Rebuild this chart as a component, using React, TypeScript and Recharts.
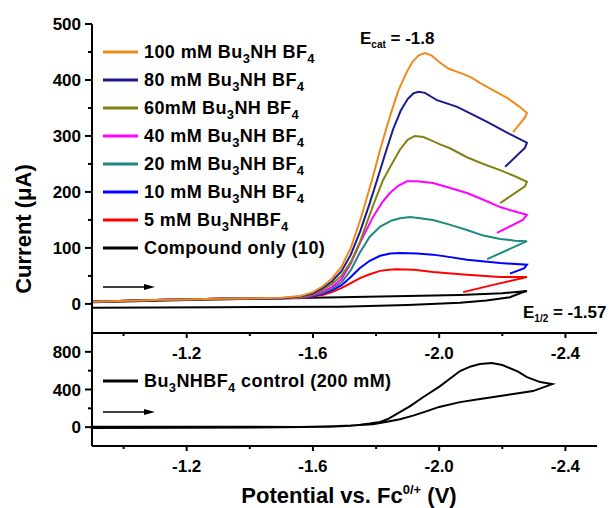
import React from 'react';
import { LineChart, Line, XAxis, YAxis, Legend } from 'recharts';

type Pt = [number, number];

// potential (V vs Fc) , current (uA) - forward scan then return
const cvCompound: Pt[] = [
  [-0.9, 3], [-1.2, 7], [-1.5, 10], [-1.686, 12], [-1.9, 14], [-2.066, 16], [-2.2, 19], [-2.278, 23],
  [-2.26, 20], [-2.224, 12], [-2.15, 6], [-2.066, 2], [-1.9, -2], [-1.686, -5], [-1.3, -6], [-0.9, -7],
];
const cv5: Pt[] = [
  [-0.9, 4], [-1.1, 7], [-1.3, 9], [-1.5, 10], [-1.56, 10], [-1.6, 13], [-1.63, 16], [-1.66, 21],
  [-1.69, 28], [-1.72, 37], [-1.749, 46], [-1.78, 53], [-1.813, 59], [-1.84, 61], [-1.866, 62],
  [-1.92, 61], [-1.98, 57], [-2.088, 52], [-2.193, 48], [-2.278, 48], [-2.171, 34], [-2.076, 21],
];
const cv10: Pt[] = [
  [-0.9, 4], [-1.1, 7], [-1.3, 9], [-1.5, 10], [-1.56, 11], [-1.6, 14], [-1.63, 18], [-1.66, 24],
  [-1.69, 33], [-1.72, 48], [-1.749, 64], [-1.78, 77], [-1.813, 86], [-1.845, 90], [-1.876, 91],
  [-1.93, 90], [-1.98, 88], [-2.03, 84], [-2.088, 79], [-2.193, 73], [-2.278, 70], [-2.27, 64], [-2.224, 54],
];
const cv20: Pt[] = [
  [-0.9, 4], [-1.1, 7], [-1.3, 9], [-1.5, 10], [-1.56, 11], [-1.6, 15], [-1.63, 20], [-1.66, 27],
  [-1.69, 38], [-1.72, 60], [-1.749, 92], [-1.78, 120], [-1.813, 138], [-1.85, 149], [-1.876, 153],
  [-1.908, 155], [-1.94, 153], [-1.98, 150], [-2.03, 142], [-2.088, 132], [-2.14, 122], [-2.193, 116],
  [-2.24, 113], [-2.278, 112], [-2.152, 80],
];
const cv40: Pt[] = [
  [-0.9, 4], [-1.1, 7], [-1.3, 9], [-1.5, 10], [-1.56, 12], [-1.6, 16], [-1.63, 22], [-1.66, 30],
  [-1.69, 44], [-1.72, 72], [-1.75, 110], [-1.79, 155], [-1.82, 182], [-1.844, 198], [-1.87, 211],
  [-1.898, 219], [-1.93, 219], [-1.98, 216], [-2.03, 208], [-2.088, 198], [-2.14, 186], [-2.193, 173],
  [-2.24, 165], [-2.278, 159], [-2.265, 150], [-2.183, 127],
];
const cv60: Pt[] = [
  [-0.9, 4], [-1.1, 7], [-1.3, 9], [-1.5, 10], [-1.56, 12], [-1.6, 17], [-1.63, 25], [-1.66, 35],
  [-1.69, 50], [-1.72, 75], [-1.75, 112], [-1.79, 175], [-1.822, 221], [-1.85, 250], [-1.875, 275],
  [-1.9, 293], [-1.923, 300], [-1.95, 298], [-1.971, 293], [-2.003, 285], [-2.034, 278], [-2.088, 262],
  [-2.14, 250], [-2.193, 239], [-2.24, 228], [-2.278, 218], [-2.272, 210], [-2.193, 180],
];
const cv80: Pt[] = [
  [-0.9, 4], [-1.1, 7], [-1.3, 9], [-1.5, 10], [-1.56, 13], [-1.6, 19], [-1.63, 28], [-1.66, 40],
  [-1.69, 58], [-1.72, 88], [-1.75, 130], [-1.78, 180], [-1.803, 221], [-1.83, 270], [-1.854, 312],
  [-1.878, 345], [-1.9, 366], [-1.918, 376], [-1.935, 379], [-1.955, 377], [-1.975, 370], [-1.993, 364],
  [-2.057, 352], [-2.1, 340], [-2.152, 325], [-2.215, 306], [-2.278, 288], [-2.272, 279], [-2.209, 245],
];
const cv100: Pt[] = [
  [-0.9, 4], [-1.1, 7], [-1.3, 9], [-1.5, 11], [-1.56, 14], [-1.6, 21], [-1.63, 31], [-1.66, 45],
  [-1.69, 66], [-1.72, 100], [-1.75, 150], [-1.787, 221], [-1.815, 280], [-1.844, 335], [-1.87, 380],
  [-1.898, 415], [-1.915, 432], [-1.935, 444], [-1.955, 448], [-1.975, 444], [-2.0, 432], [-2.03, 420],
  [-2.06, 414], [-2.1, 405], [-2.129, 395], [-2.17, 382], [-2.215, 368], [-2.255, 352], [-2.278, 341],
  [-2.272, 333], [-2.234, 307],
];
const cvControl: Pt[] = [
  [-0.9, -8], [-1.2, -5], [-1.5, -2], [-1.65, 5], [-1.72, 16], [-1.75, 25], [-1.78, 38], [-1.813, 55],
  [-1.84, 90], [-1.87, 150], [-1.908, 223], [-1.95, 320], [-2.003, 436], [-2.066, 596], [-2.1, 645],
  [-2.129, 670], [-2.167, 681], [-2.2, 660], [-2.25, 590], [-2.278, 532], [-2.32, 479], [-2.358, 457],
  [-2.297, 383], [-2.24, 355], [-2.193, 330], [-2.13, 300], [-2.066, 266], [-2.0, 215], [-1.961, 170],
  [-1.92, 125], [-1.876, 85], [-1.83, 55], [-1.79, 32], [-1.72, 18], [-1.664, 11], [-1.559, 2], [-1.3, 5], [-0.9, 4],
];

// drawing order (bottom to top)
const topSeries = [
  { name: 'Compound only (10)', color: '#000000', pts: cvCompound },
  { name: '5 mM Bu3NHBF4', color: '#ff0000', pts: cv5 },
  { name: '10 mM Bu3NH BF4', color: '#0000ff', pts: cv10 },
  { name: '20 mM Bu3NH BF4', color: '#1a8a80', pts: cv20 },
  { name: '40 mM Bu3NH BF4', color: '#ff00ff', pts: cv40 },
  { name: '60mM Bu3NH BF4', color: '#828214', pts: cv60 },
  { name: '80 mM Bu3NH BF4', color: '#1a1a8c', pts: cv80 },
  { name: '100 mM Bu3NH BF4', color: '#f08a1c', pts: cv100 },
];
const bottomSeries = [{ name: 'Bu3NHBF4 control (200 mM)', color: '#000000', pts: cvControl }];

const xTicks = [-1.0, -1.2, -1.4, -1.6, -1.8, -2.0, -2.2, -2.4];
const xLabeled = [-1.2, -1.6, -2.0, -2.4];
const topYTicks = [0, 50, 100, 150, 200, 250, 300, 350, 400, 450, 500];
const bottomYTicks = [0, 200, 400, 600, 800];

const FONT = '"Liberation Sans", Arial, sans-serif';

const toRows = (pts: Pt[]) => pts.map(([v, i]) => ({ v, i }));

// digits right after a letter become subscripts (Bu3, BF4)
const chem = (s: string) => {
  const out: React.ReactNode[] = [];
  let buf = '';
  for (let k = 0; k < s.length; k++) {
    const c = s[k];
    if (/\d/.test(c) && k > 0 && /[A-Za-z]/.test(s[k - 1])) {
      if (buf) out.push(buf);
      buf = '';
      out.push(
        <span key={k} style={{ fontSize: 13, verticalAlign: '-5px', lineHeight: 0 }}>
          {c}
        </span>
      );
    } else buf += c;
  }
  if (buf) out.push(buf);
  return out;
};

const XTick = (props: any) => {
  const { x, y, payload } = props;
  const major = xLabeled.some((t) => Math.abs(t - payload.value) < 1e-6);
  return (
    <g>
      <line x1={x} x2={x} y1={y} y2={y + (major ? 5 : 3)} stroke="#000" strokeWidth={2} />
      {major && (
        <text x={x} y={y + 26} textAnchor="middle" fontFamily={FONT} fontWeight="bold" fontSize={17} fill="#000">
          {payload.value.toFixed(1)}
        </text>
      )}
    </g>
  );
};

const makeYTick = (step: number) => (props: any) => {
  const { x, y, payload } = props;
  const major = payload.value % step === 0;
  return (
    <g>
      <line x1={x} x2={x - (major ? 7 : 4)} y1={y} y2={y} stroke="#000" strokeWidth={2} />
      {major && (
        <text x={x - 11} y={y + 6} textAnchor="end" fontFamily={FONT} fontWeight="bold" fontSize={17} fill="#000">
          {payload.value}
        </text>
      )}
    </g>
  );
};

const LegendBox = ({ items }: { items: { name: string; color: string }[] }) => (
  <div style={{ fontFamily: FONT, fontWeight: 'bold', fontSize: 18, letterSpacing: '0.4px', color: '#000' }}>
    {items.map((it) => (
      <div key={it.name} style={{ height: 28, display: 'flex', alignItems: 'center', whiteSpace: 'nowrap' }}>
        <svg width={41} height={6} style={{ flex: 'none' }}>
          <line x1={3} x2={38} y1={3} y2={3} stroke={it.color} strokeWidth={3} />
        </svg>
        <span style={{ marginLeft: 3 }}>{chem(it.name)}</span>
      </div>
    ))}
  </div>
);

const Arrow = ({ y }: { y: number }) => (
  <g>
    <line x1={103} x2={146} y1={y} y2={y} stroke="#000" strokeWidth={1.5} />
    <polygon points={`${144},${y - 3} ${155},${y} ${144},${y + 3}`} fill="#000" />
  </g>
);

const axisLine = { stroke: '#000', strokeWidth: 2 };

export default function App() {
  const topLegend = [...topSeries].reverse();
  return (
    <div style={{ position: 'absolute', left: 0, top: 0, width: 611, height: 508, background: '#fff' }}>
      <div style={{ position: 'absolute', left: 0, top: 0 }}>
        <LineChart width={611} height={380} margin={{ top: 24, right: 14, bottom: 0, left: 0 }}>
          <XAxis
            dataKey="v"
            type="number"
            domain={[-2.5, -0.9]}
            reversed
            allowDataOverflow
            ticks={xTicks}
            interval={0}
            tickSize={0}
            tickMargin={0}
            tickLine={false}
            tick={XTick}
            axisLine={axisLine}
            height={47}
          />
          <YAxis
            type="number"
            domain={[-52, 500]}
            allowDataOverflow
            ticks={topYTicks}
            interval={0}
            tickSize={0}
            tickMargin={0}
            tickLine={false}
            tick={makeYTick(100)}
            axisLine={axisLine}
            width={92}
          />
          {topSeries.map((s) => (
            <Line
              key={s.name}
              data={toRows(s.pts)}
              dataKey="i"
              name={s.name}
              type="linear"
              stroke={s.color}
              strokeWidth={2}
              dot={false}
              isAnimationActive={false}
            />
          ))}
          <Legend
            layout="vertical"
            align="center"
            verticalAlign="middle"
            wrapperStyle={{ left: 100, top: 38, width: 260, height: 230 }}
            content={() => <LegendBox items={topLegend} />}
          />
        </LineChart>
      </div>
      <div style={{ position: 'absolute', left: 0, top: 320 }}>
        <LineChart width={611} height={188} margin={{ top: 13, right: 14, bottom: 0, left: 0 }}>
          <XAxis
            dataKey="v"
            type="number"
            domain={[-2.5, -0.9]}
            reversed
            allowDataOverflow
            ticks={xTicks}
            interval={0}
            tickSize={0}
            tickMargin={0}
            tickLine={false}
            tick={XTick}
            axisLine={axisLine}
            height={62}
          />
          <YAxis
            type="number"
            domain={[-200, 1000]}
            allowDataOverflow
            ticks={bottomYTicks}
            interval={0}
            tickSize={0}
            tickMargin={0}
            tickLine={false}
            tick={makeYTick(400)}
            axisLine={axisLine}
            width={92}
          />
          {bottomSeries.map((s) => (
            <Line
              key={s.name}
              data={toRows(s.pts)}
              dataKey="i"
              name={s.name}
              type="linear"
              stroke={s.color}
              strokeWidth={2}
              dot={false}
              isAnimationActive={false}
            />
          ))}
          <Legend
            layout="vertical"
            align="center"
            verticalAlign="middle"
            wrapperStyle={{ left: 100, top: 47, width: 300, height: 28 }}
            content={() => <LegendBox items={bottomSeries} />}
          />
        </LineChart>
      </div>
      <svg width={611} height={508} style={{ position: 'absolute', left: 0, top: 0, pointerEvents: 'none' }}>
        <g fontFamily={FONT} fontWeight="bold" fill="#000">
          <text transform="translate(31,229) rotate(-90)" textAnchor="middle" fontSize={22}>
            Current (μA)
          </text>
          <text x={349} y={503} textAnchor="middle" fontSize={22}>
            Potential vs. Fc
            <tspan dy={-9} fontSize={13}>0/+</tspan>
            <tspan dy={9}> (V)</tspan>
          </text>
          <text x={360} y={44} fontSize={17}>
            E<tspan dy={4} fontSize={10}>cat</tspan>
            <tspan dy={-4}> = -1.8</tspan>
          </text>
          <text x={523} y={318} fontSize={17}>
            E<tspan dy={4} fontSize={10}>1/2</tspan>
            <tspan dy={-4}> = -1.57</tspan>
          </text>
        </g>
        <Arrow y={287} />
        <Arrow y={412} />
      </svg>
    </div>
  );
}
